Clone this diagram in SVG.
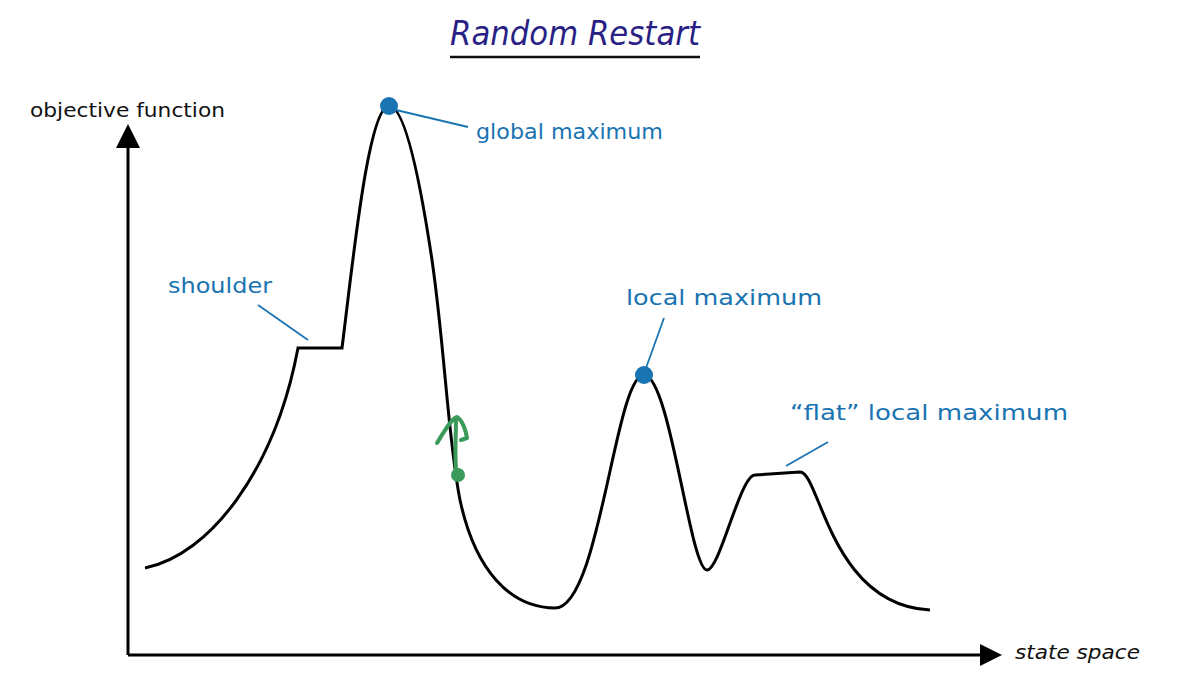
<svg xmlns="http://www.w3.org/2000/svg" width="1200" height="676" viewBox="0 0 1200 676">
<style>
.lbl{font-family:"DejaVu Sans",Verdana,sans-serif;font-size:21px;fill:#1a74b2}
.ax{font-family:"DejaVu Sans",Verdana,sans-serif;font-size:19px;fill:#111}
.lead{stroke:#1a74b2;stroke-width:1.8;fill:none}
.dot{fill:#1a74b2}
</style>
<rect width="1200" height="676" fill="#fff"/>
<g id="title">
<text x="450" y="45" textLength="250" lengthAdjust="spacingAndGlyphs" font-family="DejaVu Sans, Verdana, sans-serif" font-size="33" font-style="italic" fill="#2a1f85">Random Restart</text>
<line x1="450" y1="57" x2="700" y2="57" stroke="#111" stroke-width="2.5"/>
</g>
<g id="axes">
<line x1="128" y1="655" x2="128" y2="145" stroke="#000" stroke-width="3"/>
<polygon points="128,124 116,148 140,148" fill="#000"/>
<line x1="128" y1="655" x2="982" y2="655" stroke="#000" stroke-width="3"/>
<polygon points="1002,655 980,644 980,666" fill="#000"/>
<text class="ax" x="30" y="117" textLength="195" lengthAdjust="spacingAndGlyphs">objective function</text>
<text class="ax" x="1015" y="659" textLength="125" lengthAdjust="spacingAndGlyphs" font-style="italic">state space</text>
</g>
<g id="curve">
<path d="M145,568 C210,555 275,470 298,348 L342,348 C352,270 368,106 389,106 C405,106 420,180 432,260 C445,350 448,440 460,500 C475,570 510,608 555,608 C600,608 615,375 644,375 C670,375 690,570 707,570 C720,570 740,475 755,475 L800,472 C820,472 830,605 930,610" fill="none" stroke="#000" stroke-width="3"/>
</g>
<g id="global-maximum">
<circle class="dot" cx="389" cy="106" r="9"/>
<line class="lead" x1="396" y1="110" x2="468" y2="127"/>
<text class="lbl" x="476" y="139" textLength="187" lengthAdjust="spacingAndGlyphs">global maximum</text>
</g>
<g id="shoulder">
<line class="lead" x1="258" y1="305" x2="308" y2="340"/>
<text class="lbl" x="168" y="293" textLength="104" lengthAdjust="spacingAndGlyphs">shoulder</text>
</g>
<g id="local-maximum">
<circle class="dot" cx="644" cy="375" r="9"/>
<line class="lead" x1="664" y1="318" x2="646" y2="368"/>
<text class="lbl" x="626" y="305" textLength="196" lengthAdjust="spacingAndGlyphs">local maximum</text>
</g>
<g id="flat-local-maximum">
<line class="lead" x1="828" y1="442" x2="786" y2="466"/>
<text class="lbl" x="790" y="420" textLength="278" lengthAdjust="spacingAndGlyphs">“flat” local maximum</text>
</g>
<g id="restart-arrow">
<path d="M457,478 C454,460 456,440 456,418 M437,443 C445,430 452,418 457,417 C462,420 466,430 467,438 L461,440" fill="none" stroke="#3a9a5a" stroke-width="4" stroke-linecap="round" stroke-linejoin="round"/>
<ellipse cx="458" cy="475" rx="7" ry="7" fill="#3a9a5a"/>
</g>
</svg>
